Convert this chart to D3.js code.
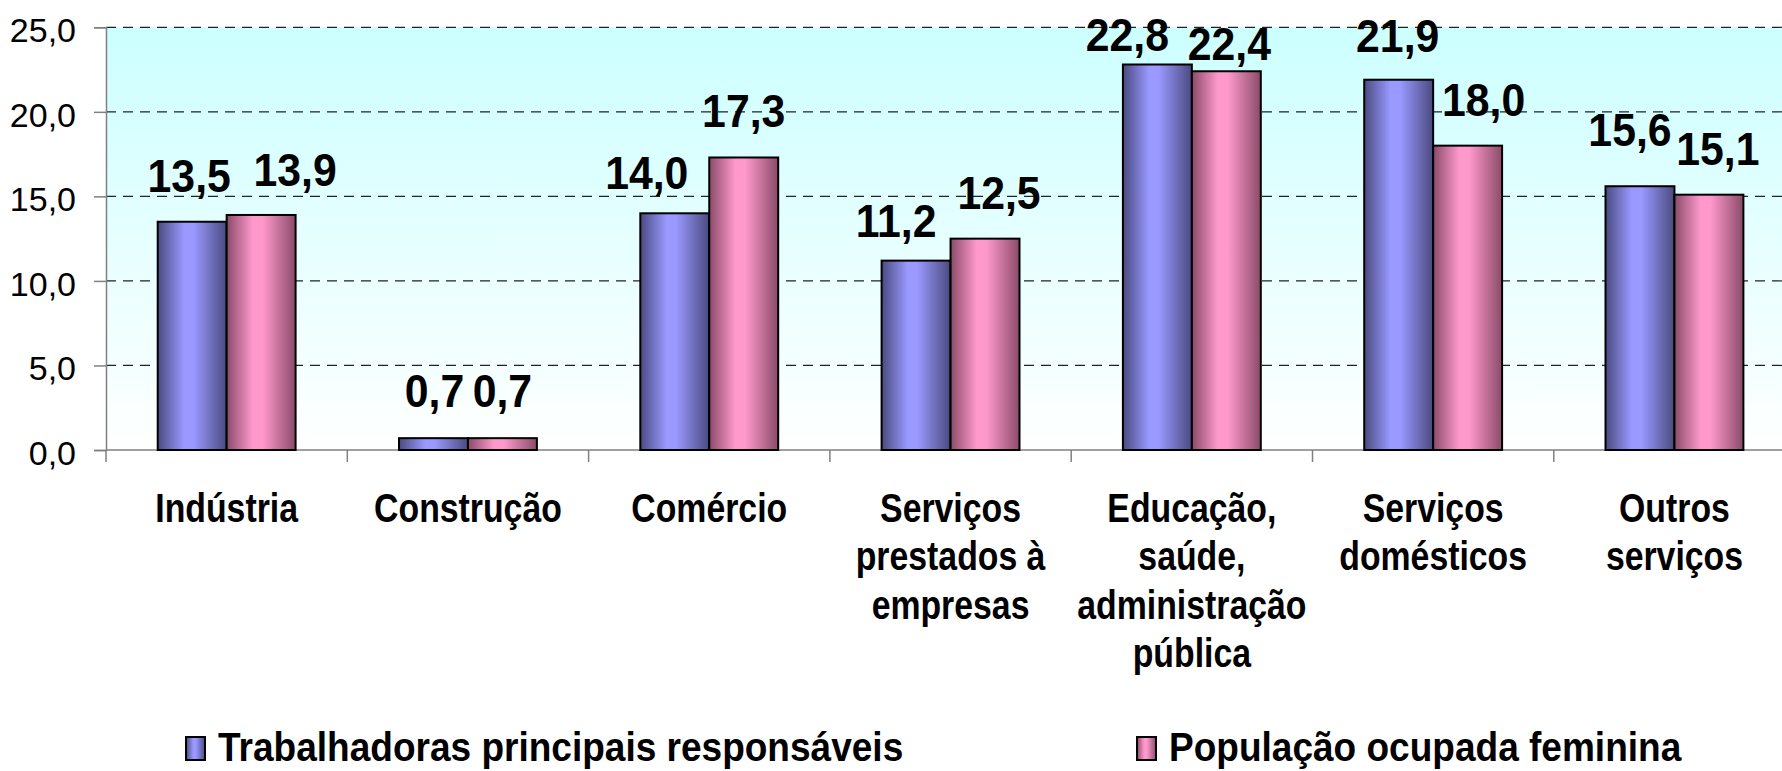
<!DOCTYPE html>
<html>
<head>
<meta charset="utf-8">
<script src="https://cdn.jsdelivr.net/npm/d3@7"></script>
<style>
  body { margin: 0; background: #fff; }
  text { font-family: "Liberation Sans", Arial, sans-serif; }
</style>
</head>
<body>
<div id="chart"></div>
<script>
// Width and height
var w = 1782, h = 771;

// Categories (x axis), one entry per line
var categories = [
  ["Indústria"],
  ["Construção"],
  ["Comércio"],
  ["Serviços", "prestados à", "empresas"],
  ["Educação,", "saúde,", "administração", "pública"],
  ["Serviços", "domésticos"],
  ["Outros", "serviços"]
];

// Series names
var seriesNames = ["Trabalhadoras principais responsáveis", "População ocupada feminina"];

// Series values (%)
var trabalhadoras = [13.5, 0.7, 14.0, 11.2, 22.8, 21.9, 15.6];
var populacao = [13.9, 0.7, 17.3, 12.5, 22.4, 18.0, 15.1];

// Y tick values
var yTicks = [0, 5, 10, 15, 20, 25];

// Label nudges (px) so the value labels sit like the original
var labelDx = [[-3, 1, -28, -20, -30, -1, -10], [34, 0, 0, 14, 3, 16, 9]];
var labelGap = [[30, 31, 24, 24, 13, 28, 40], [29, 31, 30, 30, 11, 30, 30]];

var svg = d3.select("#chart")
  .append("svg")
  .attr("width", w)
  .attr("height", h);

var defs = svg.append("defs");

// Plot area background, cyan fading to white
var bg = defs.append("linearGradient")
  .attr("id", "bg").attr("x1", 0).attr("y1", 0).attr("x2", 0).attr("y2", 1);
bg.append("stop").attr("offset", "0%").attr("stop-color", "#ccffff");
bg.append("stop").attr("offset", "100%").attr("stop-color", "#ffffff");

// Bar gradients, dark edges and lighter middle
function barGradient(id, dark, light) {
  var g = defs.append("linearGradient")
    .attr("id", id).attr("x1", 0).attr("y1", 0).attr("x2", 1).attr("y2", 0);
  g.append("stop").attr("offset", "0%").attr("stop-color", dark);
  g.append("stop").attr("offset", "38%").attr("stop-color", light);
  g.append("stop").attr("offset", "52%").attr("stop-color", light);
  g.append("stop").attr("offset", "100%").attr("stop-color", dark);
}
barGradient("gBlue", "#4a4a80", "#9999ff");
barGradient("gPink", "#8a4b69", "#ff99cc");
var fills = ["url(#gBlue)", "url(#gPink)"];

// Scales
var x0 = 106, yBottom = 450, yTop = 27.3;
var bandW = 241.3;
var x = d3.scaleBand()
  .domain(d3.range(categories.length))
  .range([x0, x0 + bandW * categories.length])
  .padding(0);
var barW = x.bandwidth() / 3.5;
var y = d3.scaleLinear().domain([0, 25]).range([yBottom, yTop]);

// Background
svg.append("rect")
  .attr("x", x0).attr("y", y(25))
  .attr("width", w - x0).attr("height", y(0) - y(25))
  .attr("fill", "url(#bg)");

// Gridlines
svg.append("g").selectAll("line")
  .data(yTicks.filter(function(d) { return d > 0; }))
  .enter().append("line")
  .attr("x1", x0).attr("x2", w)
  .attr("y1", function(d) { return y(d); })
  .attr("y2", function(d) { return y(d); })
  .attr("stroke", "#222").attr("stroke-width", 1.2)
  .attr("stroke-dasharray", "10,7");

// Y axis
var yAxis = d3.axisLeft(y)
  .tickValues(yTicks)
  .tickSize(12)
  .tickPadding(18)
  .tickFormat(function(d) { return d3.format(".1f")(d).replace(".", ","); });
var yg = svg.append("g").attr("transform", "translate(" + x0 + ",0)").call(yAxis);
yg.select(".domain").attr("stroke", "#808080").attr("stroke-width", 1.5);
yg.selectAll(".tick line").attr("stroke", "#808080").attr("stroke-width", 1.5);
yg.selectAll(".tick text")
  .attr("font-size", 34).attr("fill", "#000")
  .attr("font-family", "Liberation Sans, Arial, sans-serif")
  .attr("dy", "0.42em");

// X axis line and boundary ticks
svg.append("line")
  .attr("x1", x0).attr("x2", w)
  .attr("y1", y(0)).attr("y2", y(0))
  .attr("stroke", "#808080").attr("stroke-width", 1.5);
svg.append("g").selectAll("line")
  .data(d3.range(categories.length + 1))
  .enter().append("line")
  .attr("x1", function(i) { return x0 + i * x.step(); })
  .attr("x2", function(i) { return x0 + i * x.step(); })
  .attr("y1", y(0)).attr("y2", y(0) + 12)
  .attr("stroke", "#808080").attr("stroke-width", 1.5);

// Bars
var series = [trabalhadoras, populacao];
var bars = svg.append("g");
series.forEach(function(vals, s) {
  bars.selectAll(".bar" + s)
    .data(vals)
    .enter().append("rect")
    .attr("class", "bar" + s)
    .attr("x", function(d, i) { return x(i) + (x.bandwidth() - 2 * barW) / 2 + s * barW; })
    .attr("y", function(d) { return y(d); })
    .attr("width", barW)
    .attr("height", function(d) { return y(0) - y(d); })
    .attr("fill", fills[s])
    .attr("stroke", "#000").attr("stroke-width", 2);
});

// Value labels
var labels = svg.append("g");
series.forEach(function(vals, s) {
  labels.selectAll(".lab" + s)
    .data(vals)
    .enter().append("text")
    .attr("class", "lab" + s)
    .attr("transform", function(d, i) {
      var cx = x(i) + (x.bandwidth() - 2 * barW) / 2 + s * barW + barW / 2 + labelDx[s][i];
      return "translate(" + cx + "," + (y(d) - labelGap[s][i]) + ") scale(0.93,1)";
    })
    .attr("text-anchor", "middle")
    .attr("font-size", 46).attr("font-weight", "bold")
    .text(function(d) { return d3.format(".1f")(d).replace(".", ","); });
});

// Category labels (narrow bold)
var cat = svg.append("g").selectAll("g")
  .data(categories)
  .enter().append("g")
  .attr("transform", function(d, i) {
    return "translate(" + (x(i) + x.bandwidth() / 2) + ",522) scale(0.845,1)";
  });
cat.selectAll("text")
  .data(function(d) { return d; })
  .enter().append("text")
  .attr("x", 0)
  .attr("y", function(d, j) { return j * 48.3; })
  .attr("text-anchor", "middle")
  .attr("font-size", 40).attr("font-weight", "bold")
  .text(function(d) { return d; });

// Legend
var legendX = [186, 1137];
var legend = svg.append("g").selectAll("g")
  .data(seriesNames)
  .enter().append("g")
  .attr("transform", function(d, i) { return "translate(" + legendX[i] + ",0)"; });
legend.append("rect")
  .attr("x", 0).attr("y", 737)
  .attr("width", 19).attr("height", 23)
  .attr("fill", function(d, i) { return fills[i]; })
  .attr("stroke", "#000").attr("stroke-width", 2);
legend.append("text")
  .attr("transform", "translate(32,761) scale(0.926,1)")
  .attr("font-size", 40).attr("font-weight", "bold")
  .text(function(d) { return d; });
</script>
</body>
</html>
